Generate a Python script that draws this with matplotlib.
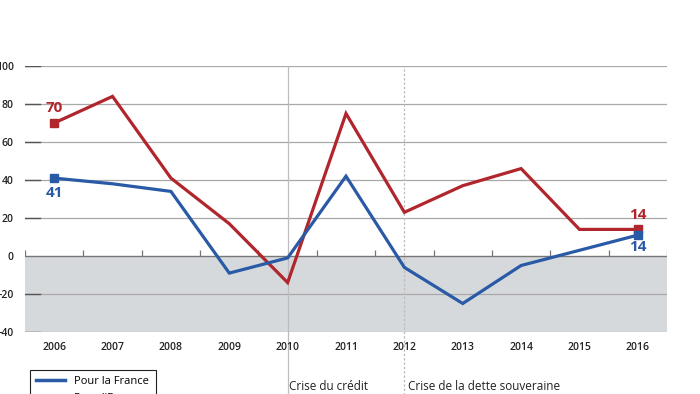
import numpy as np
import matplotlib
matplotlib.use('Agg')
from matplotlib import pyplot as plt
from matplotlib.lines import Line2D

plt.rcParams['font.family'] = ['Open Sans', 'DejaVu Sans']

annees = [2006, 2007, 2008, 2009, 2010, 2011, 2012, 2013, 2014, 2015, 2016]
france = [41, 38, 34, -9, -1, 42, -6, -25, -5, 3, 11]
europe = [70, 84, 41, 17, -14, 75, 23, 37, 46, 14, 14]
yticks = [-40, -20, 0, 20, 40, 60, 80, 100]
crises = [2010, 2012]
crise_labels = ['Crise du crédit', 'Crise de la dette souveraine']
series_labels = ['Pour la France', "Pour l'Europe"]

bleu = '#2a5aa6'
rouge = '#b1262c'

fig = plt.figure(figsize=(7, 3.94), dpi=100)
ax = fig.add_axes([25 / 700, 62 / 394, 642 / 700, 266 / 394])
ax.set_xlim(2005.5, 2016.5)
ax.set_ylim(-40, 100)

# zone negative grisee
ax.axhspan(-40, 0, color='#d6d9dc', zorder=0, lw=0)

# grille horizontale
for v in yticks:
    if v == 0:
        continue
    ax.axhline(v, color='#a8a8a8', lw=0.9, zorder=1)
    ax.plot([2005.5, 2005.75], [v, v], color='#555555', lw=1.0, zorder=1)
ax.axhline(0, color='#777777', lw=1.0, zorder=2)
demi = np.arange(2005.5, 2017, 1)
ax.vlines(demi, 0, 3, color='#777777', lw=0.9, zorder=2)

# lignes des crises
trans = ax.get_xaxis_transform()
ax.plot([crises[0], crises[0]], [-0.24, 1.0], transform=trans, color='#bdbdbd',
        lw=0.9, clip_on=False, zorder=1)
ax.plot([crises[1], crises[1]], [-0.24, 1.0], transform=trans, color='#bdbdbd',
        lw=0.9, ls=(0, (2, 1.5)), clip_on=False, zorder=1)
ax.text(crises[0] + 0.03, -0.205, crise_labels[0], transform=trans, fontsize=8.5,
        color='#222222', va='center')
ax.text(crises[1] + 0.06, -0.205, crise_labels[1], transform=trans, fontsize=8.5,
        color='#222222', va='center')

# series
ax.plot(annees, europe, color=rouge, lw=2.3, zorder=4, solid_joinstyle='miter')
ax.plot(annees, france, color=bleu, lw=2.3, zorder=5, solid_joinstyle='miter')
for s, c in [(europe, rouge), (france, bleu)]:
    ax.plot([annees[0], annees[-1]], [s[0], s[-1]], 's', color=c, ms=6, zorder=6)

ax.text(annees[0], europe[0] + 4, str(europe[0]), color=rouge, fontsize=11,
        fontweight='bold', ha='center', va='bottom')
ax.text(annees[0], france[0] - 4, str(france[0]), color=bleu, fontsize=11,
        fontweight='bold', ha='center', va='top')
ax.text(annees[-1], europe[-1] + 4, '14', color=rouge, fontsize=11,
        fontweight='bold', ha='center', va='bottom')
ax.text(annees[-1], france[-1] - 2.5, '14', color=bleu, fontsize=11,
        fontweight='bold', ha='center', va='top')

# axes
for sp in ax.spines.values():
    sp.set_visible(False)
ax.set_xticks(annees)
ax.set_xticklabels([str(a) for a in annees], fontsize=7.5, color='#222222',
                   fontweight='semibold')
ax.tick_params(axis='x', length=0, pad=7)
ax.set_yticks(yticks)
ax.set_yticklabels([str(v) for v in yticks], fontsize=7.5, color='#222222',
                   fontweight='semibold')
ax.tick_params(axis='y', length=0, pad=8)

# legende
handles = [Line2D([], [], color=bleu, lw=2.5), Line2D([], [], color=rouge, lw=2.5)]
leg = fig.legend(handles, series_labels, loc='upper left',
                 bbox_to_anchor=(24 / 700, 30 / 394), fontsize=8,
                 fancybox=False, framealpha=1, edgecolor='#222222',
                 handlelength=2.6, borderpad=0.6, labelspacing=0.5)
leg.get_frame().set_linewidth(0.8)

fig.savefig('out.png', dpi=100)
